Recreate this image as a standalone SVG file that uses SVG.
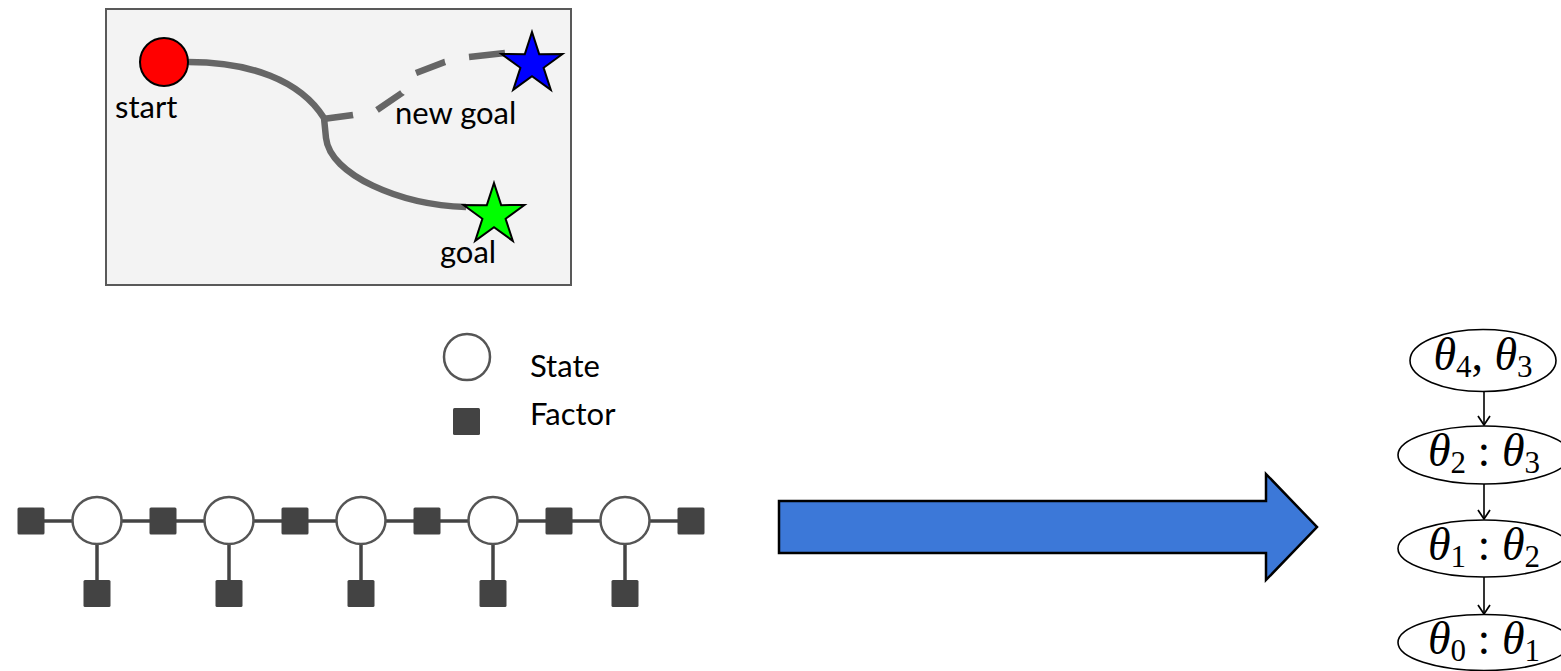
<svg xmlns="http://www.w3.org/2000/svg" width="1561" height="671" viewBox="0 0 1561 671">
  <style>
    .lbl { font-family: Lato, "Open Sans", "Liberation Sans", sans-serif; font-size: 31px; fill: #000; }
    .path { fill: none; stroke: #666; stroke-width: 6.5; }
    .fac { fill: #434343; }
    .state { fill: #fff; stroke: #555; stroke-width: 2.5; }
    .edge { stroke: #444; stroke-width: 3.5; fill: none; }
    .tnode { fill: #fff; stroke: #000; stroke-width: 1.6; }
    .math { font-family: "Liberation Serif", "DejaVu Serif", serif; font-size: 46px; fill: #000; }
    .it { font-style: italic; }
    .sub { font-size: 31px; }
    .tedge { stroke: #000; stroke-width: 1.6; fill: none; }
  </style>
  <defs>
    <path id="star" d="M0,-32 L7.17,-9.87 L30.43,-9.89 L11.6,3.77 L18.81,25.89 L0,12.2 L-18.81,25.89 L-11.6,3.77 L-30.43,-9.89 L-7.17,-9.87 Z" stroke="#000" stroke-width="2" stroke-linejoin="miter"/>
    <rect id="sq" x="-13.5" y="-13.5" width="27" height="27" rx="1.5" class="fac"/>
    <!-- open V arrowhead; +x points along the line -->
    <marker id="vhead" viewBox="0 0 11 14" refX="10" refY="7" markerWidth="11" markerHeight="14" markerUnits="userSpaceOnUse" orient="auto">
      <path d="M1,1 L10,7 L1,13" fill="none" stroke="#000" stroke-width="1.7"/>
    </marker>
  </defs>

  <!-- planning scene -->
  <g id="scene">
    <rect x="106" y="9" width="465" height="276" fill="#f3f3f3" stroke="#595959" stroke-width="2"/>
    <path class="path" d="M188,62 C250,62 300,80 324,118 L326,138 C330,175 400,205 466,207"/>
    <path class="path" stroke-dasharray="30.27 24.52 30.23 24.41 31.02 24.52 40 0" d="M323,119 L353,115 L377,110 L402,93 L416,73 L445,62 L469,57 L505,53"/>
  </g>
  <g id="start">
    <circle cx="164" cy="62" r="24" fill="#ff0000" stroke="#000" stroke-width="2"/>
    <text class="lbl" x="115" y="118">start</text>
  </g>
  <g id="new-goal">
    <use href="#star" transform="translate(532,64)" fill="#0000ff"/>
    <text class="lbl" x="395" y="124">new goal</text>
  </g>
  <g id="goal">
    <use href="#star" transform="translate(494,215)" fill="#00ff00"/>
    <text class="lbl" x="440" y="263">goal</text>
  </g>

  <!-- legend -->
  <g id="legend">
    <circle class="state" cx="467" cy="357" r="23"/>
    <text class="lbl" x="530" y="377">State</text>
    <use href="#sq" x="466.5" y="421.5"/>
    <text class="lbl" x="530" y="425">Factor</text>
  </g>

  <!-- factor graph -->
  <g id="factor-edges">
    <line class="edge" x1="31" y1="521" x2="691" y2="521"/>
    <line class="edge" x1="97" y1="521" x2="97" y2="593"/>
    <line class="edge" x1="229" y1="521" x2="229" y2="593"/>
    <line class="edge" x1="361" y1="521" x2="361" y2="593"/>
    <line class="edge" x1="493" y1="521" x2="493" y2="593"/>
    <line class="edge" x1="625" y1="521" x2="625" y2="593"/>
  </g>
  <g id="factors">
    <use href="#sq" x="31" y="521"/>
    <use href="#sq" x="163" y="521"/>
    <use href="#sq" x="295" y="521"/>
    <use href="#sq" x="427" y="521"/>
    <use href="#sq" x="559" y="521"/>
    <use href="#sq" x="691" y="521"/>
    <use href="#sq" x="97" y="593.5"/>
    <use href="#sq" x="229" y="593.5"/>
    <use href="#sq" x="361" y="593.5"/>
    <use href="#sq" x="493" y="593.5"/>
    <use href="#sq" x="625" y="593.5"/>
  </g>
  <g id="states">
    <ellipse class="state" cx="97" cy="520.5" rx="24.5" ry="23.5"/>
    <ellipse class="state" cx="229" cy="520.5" rx="24.5" ry="23.5"/>
    <ellipse class="state" cx="361" cy="520.5" rx="24.5" ry="23.5"/>
    <ellipse class="state" cx="493" cy="520.5" rx="24.5" ry="23.5"/>
    <ellipse class="state" cx="625" cy="520.5" rx="24.5" ry="23.5"/>
  </g>

  <!-- transform arrow -->
  <g id="big-arrow">
    <polygon points="779,501 1266,501 1266,474 1317,527 1266,580 1266,553 779,553" fill="#3c78d8" stroke="#000" stroke-width="2.5" stroke-linejoin="miter"/>
  </g>

  <!-- tree connectors -->
  <g id="tree-edges">
    <line class="tedge" x1="1484" y1="391.5" x2="1484" y2="425" marker-end="url(#vhead)"/>
    <line class="tedge" x1="1484" y1="484" x2="1484" y2="519" marker-end="url(#vhead)"/>
    <line class="tedge" x1="1484" y1="577" x2="1484" y2="614" marker-end="url(#vhead)"/>
  </g>

  <g id="t43">
    <ellipse class="tnode" cx="1483" cy="360.5" rx="73" ry="31"/>
    <text class="math" x="1483" y="370" text-anchor="middle"><tspan class="it">θ</tspan><tspan class="sub" dy="7">4</tspan><tspan dy="-7">, </tspan><tspan class="it">θ</tspan><tspan class="sub" dy="7">3</tspan></text>
  </g>
  <g id="t23">
    <ellipse class="tnode" cx="1484" cy="455" rx="86" ry="29"/>
    <text class="math" x="1484" y="466" text-anchor="middle"><tspan class="it">θ</tspan><tspan class="sub" dy="7">2</tspan><tspan dy="-7"> : </tspan><tspan class="it">θ</tspan><tspan class="sub" dy="7">3</tspan></text>
  </g>
  <g id="t12">
    <ellipse class="tnode" cx="1484" cy="548.5" rx="86" ry="28.5"/>
    <text class="math" x="1484" y="560" text-anchor="middle"><tspan class="it">θ</tspan><tspan class="sub" dy="7">1</tspan><tspan dy="-7"> : </tspan><tspan class="it">θ</tspan><tspan class="sub" dy="7">2</tspan></text>
  </g>
  <g id="t01">
    <ellipse class="tnode" cx="1484" cy="642.5" rx="86" ry="28"/>
    <text class="math" x="1484" y="654" text-anchor="middle"><tspan class="it">θ</tspan><tspan class="sub" dy="7">0</tspan><tspan dy="-7"> : </tspan><tspan class="it">θ</tspan><tspan class="sub" dy="7">1</tspan></text>
  </g>
</svg>
